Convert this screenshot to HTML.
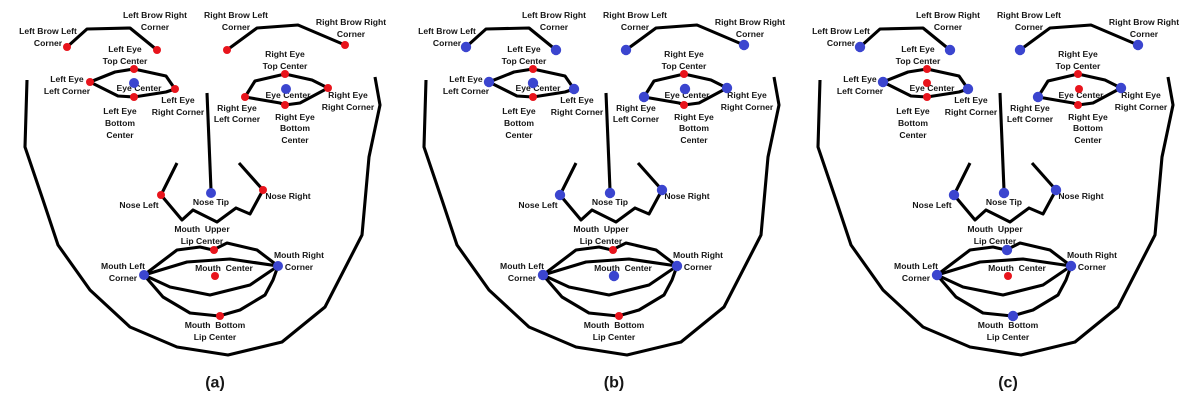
<!DOCTYPE html>
<html><head><meta charset="utf-8"><style>
html,body{margin:0;padding:0;background:#fff;}
svg{display:block;}
text{font-family:"Liberation Sans",sans-serif;font-weight:bold;font-size:8.6px;fill:#161616;}
</style></head><body>
<svg id="fig" width="1195" height="403" viewBox="0 0 1195 403"></svg>
<script>
const panelOffsets=[0,399,793];
const panelLetters=['(a)','(b)','(c)'];
const pointNames=['lbl','lbr','rbl','rbr','lelc','letc','lebc','lerc','lec','relc','retc','rebc','rerc','rec','nl','nt','nr','mlc','mrc','mulc','mc','mblc'];
const pointXY={lbl:[67,47],lbr:[157,50],rbl:[227,50],rbr:[345,45],lelc:[90,82],letc:[134,69],lebc:[134,97],lerc:[175,89],lec:[134,83],relc:[245,97],retc:[285,74],rebc:[285,105],rerc:[328,88],rec:[286,89],nl:[161,195],nt:[211,193],nr:[263,190],mlc:[144,275],mrc:[278,266],mulc:[214,250],mc:[215,276],mblc:[220,316]};
const blueA=['lec','rec','nt','mlc','mrc'];
const redB=['letc','lebc','retc','rebc','mulc','mblc'];
const redC=['letc','lebc','retc','rebc','lec','rec','mc'];
const polylines=[
 [[67,47],[87,29],[130,28],[157,50]],
 [[227,50],[257,28],[298,25],[345,45]],
 [[90,82],[115,72],[134,69],[166,76],[175,89]],
 [[90,82],[118,96],[134,97],[166,92],[175,89]],
 [[245,97],[255,81],[285,74],[312,80],[328,88]],
 [[245,97],[280,103],[285,105],[300,103],[328,88]],
 [[27,80],[25,147],[43,200],[58,245],[90,290],[130,327],[177,347],[228,355],[282,342],[325,307],[362,235],[369,157],[380,105],[375,77]],
 [[207,93],[211,190]],
 [[177,163],[161,195]],
 [[239,163],[263,190]],
 [[161,195],[182,220],[193,210],[217,222],[236,208],[250,214],[263,190]],
 [[144,275],[177,250],[200,247],[213,250],[227,243],[257,250],[278,266]],
 [[144,275],[187,262],[230,259],[278,266]],
 [[144,275],[170,287],[210,295],[250,285],[278,266]],
 [[144,275],[163,297],[190,313],[219,316],[240,310],[265,295],[273,280],[278,266]]
];
const labels=[
 ['Left Brow Left',48,31],['Corner',48,43],['Left Brow Right',155,15],['Corner',155,27],
 ['Left Eye',125,49],['Top Center',125,61],['Left Eye',67,79],['Left Corner',67,91],
 ['Eye Center',139,88],['Left Eye',178,100],['Right Corner',178,112],
 ['Left Eye',120,111],['Bottom',120,123],['Center',120,135],
 ['Right Brow Left',236,15],['Corner',236,27],['Right Brow Right',351,22],['Corner',351,34],
 ['Right Eye',285,54],['Top Center',285,66],['Eye Center',288,95],
 ['Right Eye',348,95],['Right Corner',348,107],['Right Eye',237,108],['Left Corner',237,119],
 ['Right Eye',295,117],['Bottom',295,128],['Center',295,140],
 ['Nose Left',139,205],['Nose Tip',211,202],['Nose Right',288,196],
 ['Mouth  Upper',202,229],['Lip Center',202,241],['Mouth Left',123,266],['Corner',123,278],
 ['Mouth  Center',224,268],['Mouth Right',299,255],['Corner',299,267],
 ['Mouth  Bottom',215,325],['Lip Center',215,337]
];
const NS='http://www.w3.org/2000/svg';
const svg=document.getElementById('fig');
function isBlue(p,k){
  if(p===0) return blueA.includes(k);
  if(p===1) return !redB.includes(k);
  return !redC.includes(k);
}
panelOffsets.forEach((ox,p)=>{
  const g=document.createElementNS(NS,'g');
  g.setAttribute('transform','translate('+ox+',0)');
  
  
  svg.appendChild(g);
  polylines.forEach((pl,i)=>{
    const e=document.createElementNS(NS,'polyline');
    e.setAttribute('points',pl.map(q=>q.join(',')).join(' '));
    e.setAttribute('fill','none');e.setAttribute('stroke','#000');
    e.setAttribute('stroke-width','3.1');e.setAttribute('stroke-linejoin','round');
    
    
    g.appendChild(e);
  });
  labels.forEach(l=>{
    const t=document.createElementNS(NS,'text');
    t.setAttribute('x',l[1]);t.setAttribute('y',l[2]);
    t.setAttribute('text-anchor','middle');t.setAttribute('dominant-baseline','central');
    t.setAttribute('xml:space','preserve');t.style.whiteSpace='pre';
    t.textContent=l[0];
    
    
    g.appendChild(t);
  });
  pointNames.forEach(k=>{
    const [x,y]=pointXY[k];
    const b=isBlue(p,k);
    const c=document.createElementNS(NS,'circle');
    c.setAttribute('cx',x);c.setAttribute('cy',y);
    c.setAttribute('r',b?(p===0?5:5.2):4);
    c.setAttribute('fill',b?'#3b45cf':'#e8141c');
    
    
    g.appendChild(c);
  });
  const cap=document.createElementNS(NS,'text');
  cap.setAttribute('x',215);cap.setAttribute('y',383);
  cap.setAttribute('text-anchor','middle');cap.setAttribute('dominant-baseline','central');
  cap.style.fontSize='16px';
  cap.textContent=panelLetters[p];
  
  
  g.appendChild(cap);
});
</script>
</body></html>
